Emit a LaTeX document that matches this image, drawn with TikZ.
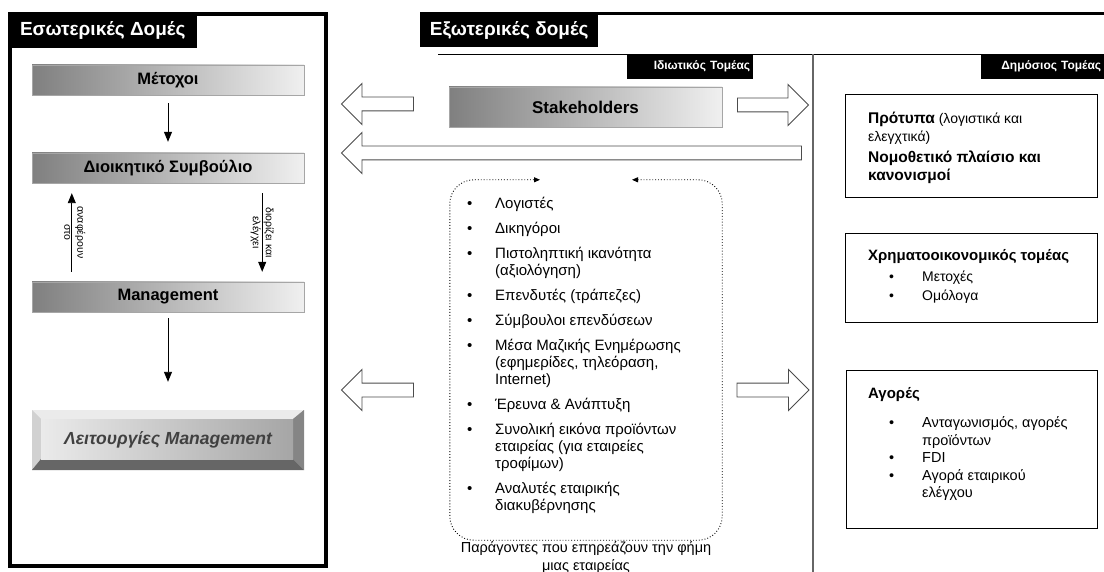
\documentclass[tikz,border=0pt]{standalone}
\usepackage{fontspec}
\setmainfont{Liberation Sans}
\usetikzlibrary{arrows.meta,positioning,shapes.arrows}
\newcommand{\fsz}[2]{\fontsize{#1}{#2}\selectfont}

\begin{document}
\begin{tikzpicture}[x=1pt,y=-1pt,
  tab/.style={fill=black, text=white, inner sep=0pt, anchor=north west, font=\bfseries\fsz{19}{22}},
  smalltab/.style={fill=black, text=white, anchor=north west, minimum height=25pt, inner ysep=0pt, inner xsep=3pt, align=right, font=\bfseries\fsz{12}{14}},
  bar/.style={draw=black!35, left color=black!50, right color=black!6, minimum width=272pt, minimum height=30pt, inner sep=0pt, font=\bfseries\fsz{16.5}{20}},
  bevel/.style={minimum width=272pt, minimum height=60pt, inner sep=0pt, fill=black!25, text=black!75, font=\bfseries\itshape\fsz{17.5}{20},
    path picture={
      \fill[black!8] (path picture bounding box.north west) -- (path picture bounding box.north east)
        -- ([xshift=-11pt,yshift=-9pt]path picture bounding box.north east) -- ([xshift=9pt,yshift=-9pt]path picture bounding box.north west) -- cycle;
      \fill[black!18] (path picture bounding box.north west) -- ([xshift=9pt,yshift=-9pt]path picture bounding box.north west)
        -- ([xshift=9pt,yshift=11pt]path picture bounding box.south west) -- (path picture bounding box.south west) -- cycle;
      \fill[black!60] (path picture bounding box.south west) -- ([xshift=9pt,yshift=11pt]path picture bounding box.south west)
        -- ([xshift=-11pt,yshift=11pt]path picture bounding box.south east) -- (path picture bounding box.south east) -- cycle;
      \fill[black!48] (path picture bounding box.north east) -- (path picture bounding box.south east)
        -- ([xshift=-11pt,yshift=11pt]path picture bounding box.south east) -- ([xshift=-11pt,yshift=-9pt]path picture bounding box.north east) -- cycle;
      \shade[left color=black!8, right color=black!35] ([xshift=9pt,yshift=-9pt]path picture bounding box.north west)
        rectangle ([xshift=-11pt,yshift=11pt]path picture bounding box.south east);
    }},
  arr/.style={-{Triangle[length=10pt,width=8pt]}, line width=0.9pt},
  lbl/.style={rotate=-90, align=center, inner sep=1pt, font=\fsz{10.5}{13}},
  hollow/.style={single arrow, draw=black!70, fill=white, line width=0.9pt, minimum width=40pt,
    single arrow head extend=13.5pt, single arrow tip angle=90, inner xsep=0pt, inner ysep=6.5pt},
  pbox/.style={draw, line width=0.8pt, anchor=north west, inner sep=0pt},
  ptext/.style={anchor=north west, inner sep=0pt, align=left, font=\fsz{14}{18}},
  dots/.style={dotted, line width=0.9pt, rounded corners=24pt, {Triangle[length=6pt,width=5pt]}-{Triangle[length=6pt,width=5pt]}}
]
\useasboundingbox (0,0) rectangle (1104,572);

% internal structures
\draw[line width=3.5pt] (10,14) rectangle (326,566);
\node[tab, minimum width=188pt, minimum height=35.5pt] (intT) at (8.5,12.5) {Εσωτερικές Δομές};

\node[bar] (met) at (168,80) {Μέτοχοι};
\node[bar] (board) at (168,168) {Διοικητικό Συμβούλιο};
\node[bar] (mgmt) at (168,297) {Management};
\node[bevel] (func) at (168,440) {Λειτουργίες Management};

\draw[arr, shorten <=8pt, shorten >=11pt] (met.south) -- (board.north);
\draw[arr] ([xshift=40pt,yshift=10pt]mgmt.north west) -- node[xshift=3pt, lbl] {αναφέρουν\\στο}
  ([xshift=40pt,yshift=-10pt]board.south west);
\draw[arr] ([xshift=-42pt,yshift=-10pt]board.south east) -- node[lbl] {διορίζει και\\ελέγχει}
  ([xshift=-42pt,yshift=10pt]mgmt.north east);
\draw[arr, shorten <=6pt, shorten >=28pt] (mgmt.south) -- (func.north);

% external structures
\draw[line width=3pt] (420,14) -- (1104,14);
\node[tab, minimum width=178pt, minimum height=33pt] (extT) at (420,14) {Εξωτερικές δομές};
\draw[line width=0.8pt] (438,54) -- (1104,54);
\draw[black!60, line width=1.2pt] (813,54) -- (813,572);
\node[smalltab, text width=120pt] (privT) at (627,54) {Ιδιωτικός Τομέας};
\node[smalltab, text width=117pt] (pubT) at (981,54) {Δημόσιος Τομέας};

\node[bar, minimum width=273pt, minimum height=40pt, font=\bfseries\fsz{17}{20}] (stake) at (585.5,107) {Stakeholders};

\node[hollow, minimum height=72pt, shape border rotate=180] (outL1) at (381,104) {};
\node[hollow, minimum height=71pt] (outR1) at (769.5,105) {};
\node[hollow, minimum height=460pt, shape border rotate=180] (outL2) at (575,153) {};
\node[hollow, minimum height=72pt, shape border rotate=180] (outL3) at (381,390) {};
\node[hollow, minimum height=72pt] (outR3) at (769.5,390) {};

% reputation factors
\node[minimum width=272pt, minimum height=360pt, inner sep=0pt] (frame) at (586,360) {};
\draw[dots] ([xshift=46pt]frame.north) -- (frame.north east) -- (frame.south east)
  -- (frame.south west) -- (frame.north west) -- ([xshift=-46pt]frame.north);
\node[anchor=north west, inner sep=0pt, font=\fsz{15}{17}] (factors) at (467,196.5) {%
  \begin{tabular}{@{}p{28pt}@{}p{220pt}@{}}
  \textbullet & Λογιστές\\[8pt]
  \textbullet & Δικηγόροι\\[8pt]
  \textbullet & Πιστοληπτική ικανότητα\newline (αξιολόγηση)\\[8pt]
  \textbullet & Επενδυτές (τράπεζες)\\[8pt]
  \textbullet & Σύμβουλοι επενδύσεων\\[8pt]
  \textbullet & Μέσα Μαζικής Ενημέρωσης\newline (εφημερίδες, τηλεόραση,\newline Internet)\\[8pt]
  \textbullet & Έρευνα \& Ανάπτυξη\\[8pt]
  \textbullet & Συνολική εικόνα προϊόντων\newline εταιρείας (για εταιρείες\newline τροφίμων)\\[8pt]
  \textbullet & Αναλυτές εταιρικής\newline διακυβέρνησης
  \end{tabular}};
\node[below=1pt of frame, align=center, inner sep=0pt, font=\fsz{14.5}{18}] (cap)
  {Παράγοντες που επηρεάζουν την φήμη\\μιας εταιρείας};

% public sector
\node[pbox, minimum width=252pt, minimum height=103pt] (pub1) at (845,94) {};
\node[ptext] (pub1t) at (868,112) {{\fsz{15.5}{18}\bfseries Πρότυπα} (λογιστικά και\\ελεγχτικά)\\[3pt]
  {\fsz{15.5}{18}\bfseries Νομοθετικό πλαίσιο και}\\{\fsz{15.5}{18}\bfseries κανονισμοί}};
\node[pbox, minimum width=252pt, minimum height=89pt] (pub2) at (845,233) {};
\node[ptext] (pub2t) at (868,249) {{\fsz{15}{18}\bfseries Χρηματοοικονομικός τομέας}\\[4pt]
  {\fsz{14}{19}\begin{tabular}{@{\hspace{21pt}}p{33pt}@{}l@{}}
  \textbullet & Μετοχές\\
  \textbullet & Ομόλογα
  \end{tabular}}};
\node[pbox, minimum width=251pt, minimum height=158pt] (pub3) at (846,370) {};
\node[ptext] (pub3t) at (868,387) {{\fsz{15}{18}\bfseries Αγορές}\\[13pt]
  {\fsz{14.5}{17.5}\begin{tabular}{@{\hspace{21pt}}p{33pt}@{}l@{}}
  \textbullet & Ανταγωνισμός, αγορές\\
   & προϊόντων\\
  \textbullet & FDI\\
  \textbullet & Αγορά εταιρικού\\
   & ελέγχου
  \end{tabular}}};
\end{tikzpicture}
\end{document}
